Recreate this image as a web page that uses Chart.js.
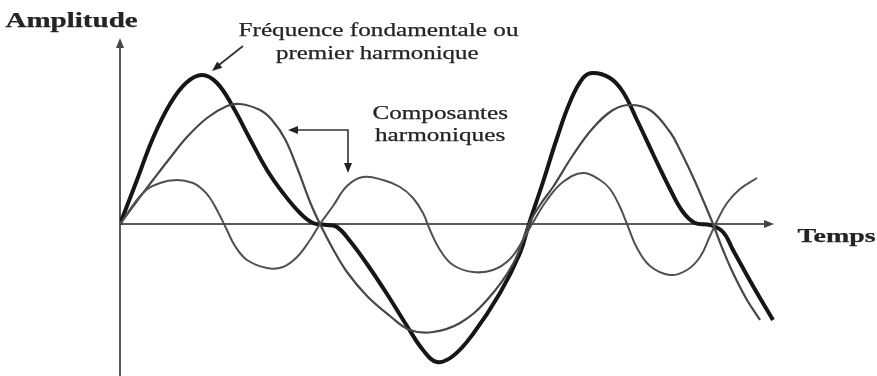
<!DOCTYPE html>
<html lang="fr">
<head>
<meta charset="utf-8">
<title>Fréquence fondamentale et composantes harmoniques</title>
<script src="https://cdn.jsdelivr.net/npm/chart.js@4.4.1/dist/chart.umd.min.js"></script>
<style>
    body { margin: 0; background: #fff; }
    #wrap { position: relative; width: 877px; height: 376px; overflow: hidden; }
    #chart { position: absolute; left: 0; top: 0; }
    .lbl {
        position: absolute;
        font-family: "Liberation Serif", "DejaVu Serif", serif;
        color: #242424;
        white-space: nowrap;
        line-height: 1;
        transform-origin: center center;
        -webkit-text-stroke: 0.25px #242424;
    }
</style>
</head>
<body>
<div id="wrap">
    <canvas id="chart" width="877" height="376"></canvas>
</div>
<script>
// time axis (t) and amplitudes, same arbitrary units on both axes
const sumT = [0, 17, 33, 50, 66, 82, 97, 113, 130, 147, 163, 180, 193, 207, 217, 230, 247, 267, 287, 303, 317, 333, 353, 380, 400, 409, 423, 437, 450, 463, 473, 490, 503, 517, 533, 550, 563, 575, 590, 603, 613, 633, 653];
const sumA = [0, 44, 86, 120, 141, 149, 141, 117, 85, 54, 31, 11, 1, -1, -3, -17, -40, -70, -102, -126, -138, -132, -110, -69, -29, 0, 42, 86, 122, 146, 151, 146, 132, 104, 70, 35, 12, 1, -1, -8, -26, -62, -96];

const fundT = [0, 17, 33, 50, 67, 87, 107, 120, 140, 152, 165, 178, 190, 200, 213, 227, 247, 270, 290, 313, 340, 367, 393, 409, 420, 433, 453, 473, 493, 510, 530, 550, 560, 573, 583, 593, 603, 613, 627, 640];
const fundA = [0, 23, 44, 66, 87, 106, 118, 120, 114, 104, 85, 54, 22, 0, -25, -48, -72, -92, -106, -108, -99, -76, -40, 0, 19, 37, 69, 96, 114, 119, 114, 92, 74, 47, 24, 0, -26, -49, -76, -96];

const harmT = [0, 23, 40, 57, 73, 82, 90, 98, 106, 115, 127, 147, 163, 177, 190, 200, 213, 227, 243, 263, 280, 293, 303, 310, 320, 333, 353, 373, 390, 403, 412, 427, 443, 463, 480, 490, 500, 507, 517, 530, 550, 567, 580, 590, 597, 607, 620, 637];
const harmA = [0, 31, 41, 44, 41, 35, 26, 12, -4, -22, -36, -44, -43, -33, -16, 0, 18, 38, 47, 44, 37, 26, 11, -6, -26, -41, -48, -46, -35, -16, 0, 24, 42, 51, 44, 35, 17, 0, -24, -42, -51, -46, -33, -12, 3, 21, 35, 46];

const xMax = 660;
const yMin = -152;
const yMax = 184;

const toPoints = (ts, as) => ts.map((t, i) => ({ x: t, y: as[i] }));

function arrowHead(ctx, x, y, angle, len, half) {
    ctx.save();
    ctx.translate(x, y);
    ctx.rotate(angle);
    ctx.beginPath();
    ctx.moveTo(0, 0);
    ctx.lineTo(-len, -half);
    ctx.lineTo(-len, half);
    ctx.closePath();
    ctx.fill();
    ctx.restore();
}

// axes with arrow tips plus the pointer arrows for the annotations
const axesPlugin = {
    id: "axesPlugin",
    beforeDatasetsDraw(chart) {
        const { ctx, scales } = chart;
        const x0 = scales.x.getPixelForValue(0);
        const y0 = scales.y.getPixelForValue(0);
        ctx.save();
        ctx.strokeStyle = "#5a5a5a";
        ctx.fillStyle = "#444";
        ctx.lineWidth = 2;
        ctx.beginPath();
        ctx.moveTo(x0, chart.height);
        ctx.lineTo(x0, 46);
        ctx.moveTo(x0, y0);
        ctx.lineTo(766, y0);
        ctx.stroke();
        arrowHead(ctx, x0, 38, -Math.PI / 2, 10, 4);
        arrowHead(ctx, 774, y0, 0, 10, 4);
        ctx.restore();
    },
    afterDatasetsDraw(chart) {
        const { ctx } = chart;
        ctx.save();
        ctx.strokeStyle = "#333";
        ctx.fillStyle = "#222";
        ctx.lineWidth = 1.8;
        // fundamental pointer
        ctx.beginPath();
        ctx.moveTo(243, 46);
        ctx.lineTo(219, 65);
        ctx.stroke();
        arrowHead(ctx, 212, 71, Math.atan2(25, -31), 10, 4);
        // harmonics pointer
        ctx.lineWidth = 1.6;
        ctx.beginPath();
        ctx.moveTo(296, 130);
        ctx.lineTo(348, 130);
        ctx.lineTo(348, 164);
        ctx.stroke();
        arrowHead(ctx, 288, 130, Math.PI, 10, 4);
        arrowHead(ctx, 348, 173, Math.PI / 2, 10, 4);
        ctx.restore();
    }
};

new Chart(document.getElementById("chart"), {
    type: "line",
    data: {
        datasets: [
            {
                label: "Composante harmonique",
                data: toPoints(harmT, harmA),
                borderColor: "#505050",
                borderWidth: 2,
                pointRadius: 0,
                tension: 0.4
            },
            {
                label: "Fondamentale",
                data: toPoints(fundT, fundA),
                borderColor: "#474747",
                borderWidth: 2.2,
                pointRadius: 0,
                tension: 0.4
            },
            {
                label: "Signal",
                data: toPoints(sumT, sumA),
                borderColor: "#161616",
                borderWidth: 4,
                pointRadius: 0,
                tension: 0.4
            }
        ]
    },
    options: {
        responsive: false,
        animation: false,
        devicePixelRatio: 1,
        layout: { padding: { left: 120, right: 97, top: 40, bottom: 0 } },
        plugins: { legend: { display: false }, tooltip: { enabled: false } },
        scales: {
            x: { type: "linear", min: 0, max: xMax, display: false },
            y: { min: yMin, max: yMax, display: false }
        }
    },
    plugins: [axesPlugin]
});

// text labels, stretched horizontally to their box width
const labels = [
    { text: "Amplitude", cx: 71, cy: 20, w: 132, size: 20, weight: "bold" },
    { text: "Fréquence fondamentale ou", cx: 378, cy: 29, w: 280, size: 19, weight: "normal" },
    { text: "premier harmonique", cx: 377, cy: 52, w: 203, size: 19, weight: "normal" },
    { text: "Composantes", cx: 440, cy: 112, w: 135, size: 19, weight: "normal" },
    { text: "harmoniques", cx: 440, cy: 134, w: 130, size: 19, weight: "normal" },
    { text: "Temps", cx: 836, cy: 235, w: 78, size: 19, weight: "bold" }
];

const wrap = document.getElementById("wrap");
labels.forEach((l) => {
    const el = document.createElement("div");
    el.className = "lbl";
    el.textContent = l.text;
    el.style.fontSize = l.size + "px";
    el.style.fontWeight = l.weight;
    wrap.appendChild(el);
    const w = el.offsetWidth;
    const h = el.offsetHeight;
    el.style.left = (l.cx - w / 2) + "px";
    el.style.top = (l.cy - h / 2) + "px";
    el.style.transform = "scaleX(" + (l.w / w).toFixed(3) + ")";
});
</script>
</body>
</html>
